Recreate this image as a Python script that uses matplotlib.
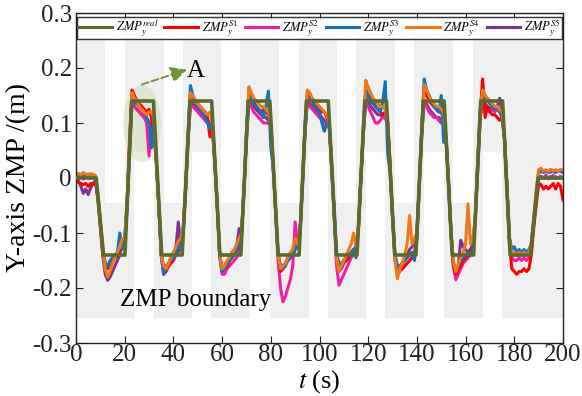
import numpy as np
import matplotlib
matplotlib.use('Agg')
import matplotlib.pyplot as plt
from matplotlib.patches import Rectangle, Ellipse
from matplotlib.lines import Line2D

plt.rcParams['font.family'] = ['Liberation Serif', 'DejaVu Serif']
plt.rcParams['mathtext.fontset'] = 'stix'

# reference ZMP (trapezoid key points)
real_t = [0, 8.3, 11.3, 20.1, 22.9, 31.8, 35.2, 43.6, 46.8, 55.7, 59.1, 67.7, 70.7,
          79.6, 83.0, 91.6, 94.6, 103.6, 107.0, 115.4, 118.6, 127.5, 130.9, 139.6,
          142.6, 151.2, 154.5, 163.3, 166.2, 175.2, 178.3, 186.6, 189.8, 200]
real_y = [0, 0, -0.14, -0.14, 0.14, 0.14, -0.14, -0.14, 0.14, 0.14, -0.14, -0.14, 0.14,
          0.14, -0.14, -0.14, 0.14, 0.14, -0.14, -0.14, 0.14, 0.14, -0.14, -0.14,
          0.14, 0.14, -0.14, -0.14, 0.14, 0.14, -0.14, -0.14, 0, 0]

# measured ZMP, one sample per second (0..200 s)
t = np.arange(0, 201)

zmp_s1 = [-0.005, -0.008, -0.01, -0.012, -0.01, -0.015, -0.01, -0.012, -0.005,
          -0.04, -0.09, -0.14, -0.16, -0.165, -0.155, -0.15, -0.145, -0.14, -0.13, -0.12, -0.115,
          -0.04, 0.07, 0.16, 0.15, 0.14, 0.135, 0.13, 0.125, 0.12, 0.125, 0.11, 0.08,
          0.03, -0.05, -0.14, -0.175, -0.17, -0.16, -0.155, -0.15, -0.14, -0.13, -0.125, -0.1,
          -0.02, 0.07, 0.15, 0.145, 0.14, 0.135, 0.13, 0.125, 0.12, 0.11, 0.075, 0.09,
          0.03, -0.05, -0.14, -0.17, -0.165, -0.16, -0.15, -0.145, -0.14, -0.13, -0.125, -0.1,
          -0.02, 0.08, 0.16, 0.15, 0.14, 0.13, 0.125, 0.12, 0.125, 0.12, 0.115, 0.1,
          0.02, -0.06, -0.14, -0.17, -0.165, -0.155, -0.15, -0.145, -0.14, -0.13, -0.125, -0.1,
          -0.01, 0.09, 0.155, 0.15, 0.14, 0.135, 0.13, 0.125, 0.12, 0.12, 0.11, 0.1,
          0.02, -0.06, -0.14, -0.155, -0.16, -0.15, -0.15, -0.145, -0.14, -0.135, -0.13, -0.09,
          0.0, 0.09, 0.16, 0.15, 0.145, 0.14, 0.13, 0.125, 0.12, 0.115, 0.12, 0.1,
          0.02, -0.07, -0.14, -0.16, -0.165, -0.165, -0.16, -0.155, -0.15, -0.145, -0.14, -0.11,
          -0.01, 0.09, 0.165, 0.15, 0.14, 0.135, 0.13, 0.125, 0.12, 0.12, 0.11, 0.07,
          -0.01, -0.1, -0.16, -0.175, -0.165, -0.16, -0.15, -0.145, -0.14, -0.13, -0.13, -0.07,
          0.03, 0.12, 0.18, 0.11, 0.13, 0.12, 0.115, 0.115, 0.11, 0.105, 0.11, 0.07,
          -0.02, -0.12, -0.165, -0.17, -0.175, -0.17, -0.17, -0.165, -0.17, -0.165, -0.14, -0.09,
          -0.05, -0.01, -0.012, -0.02, -0.015, -0.02, -0.015, -0.01, -0.02, -0.01, -0.015, -0.04]

zmp_s2 = [0.003, 0.0, 0.002, -0.002, 0.0, 0.002, 0.0, 0.002, 0.0,
          -0.035, -0.08, -0.13, -0.155, -0.16, -0.155, -0.15, -0.145, -0.14, -0.135, -0.125, -0.12,
          -0.05, 0.05, 0.14, 0.13, 0.125, 0.12, 0.115, 0.11, 0.1, 0.04, 0.11, 0.1,
          0.03, -0.05, -0.13, -0.165, -0.165, -0.16, -0.15, -0.145, -0.14, -0.135, -0.13, -0.1,
          -0.02, 0.07, 0.13, 0.13, 0.125, 0.12, 0.115, 0.11, 0.105, 0.1, 0.1, 0.1,
          0.03, -0.05, -0.14, -0.175, -0.175, -0.165, -0.16, -0.155, -0.15, -0.145, -0.13, -0.1,
          -0.02, 0.07, 0.14, 0.13, 0.12, 0.115, 0.11, 0.105, 0.1, 0.1, 0.1, 0.095,
          0.02, -0.06, -0.15, -0.2, -0.225, -0.215, -0.2, -0.185, -0.16, -0.08, -0.12, -0.1,
          -0.01, 0.08, 0.14, 0.13, 0.125, 0.12, 0.115, 0.11, 0.105, 0.1, 0.1, 0.09,
          0.02, -0.07, -0.16, -0.195, -0.185, -0.175, -0.165, -0.155, -0.145, -0.14, -0.13, -0.09,
          0.0, 0.08, 0.14, 0.13, 0.12, 0.11, 0.1, 0.1, 0.105, 0.11, 0.11, 0.095,
          0.02, -0.07, -0.15, -0.175, -0.17, -0.165, -0.16, -0.155, -0.15, -0.145, -0.14, -0.1,
          -0.01, 0.08, 0.14, 0.13, 0.12, 0.115, 0.11, 0.11, 0.105, 0.1, 0.1, 0.07,
          -0.01, -0.1, -0.16, -0.185, -0.175, -0.165, -0.155, -0.15, -0.145, -0.14, -0.135, -0.07,
          0.02, 0.11, 0.14, 0.13, 0.125, 0.12, 0.125, 0.12, 0.125, 0.12, 0.12, 0.07,
          -0.02, -0.11, -0.145, -0.15, -0.15, -0.145, -0.15, -0.145, -0.15, -0.145, -0.125, -0.08,
          -0.035, 0.0, 0.0, 0.0, 0.005, 0.0, 0.0, 0.005, 0.0, 0.0, 0.003, 0.0]

zmp_s3 = [0.008, 0.005, 0.006, 0.004, 0.005, 0.007, 0.005, 0.006, 0.004,
          -0.03, -0.08, -0.13, -0.155, -0.16, -0.15, -0.145, -0.14, -0.135, -0.1, -0.13, -0.11,
          -0.05, 0.06, 0.15, 0.14, 0.135, 0.13, 0.125, 0.12, 0.11, 0.1, 0.055, 0.1,
          0.03, -0.05, -0.14, -0.175, -0.165, -0.155, -0.15, -0.145, -0.14, -0.12, -0.13, -0.1,
          -0.02, 0.08, 0.168, 0.15, 0.14, 0.13, 0.125, 0.12, 0.11, 0.1, 0.09, 0.1,
          0.03, -0.05, -0.14, -0.17, -0.165, -0.155, -0.15, -0.145, -0.14, -0.13, -0.12, -0.1,
          -0.02, 0.08, 0.155, 0.145, 0.135, 0.13, 0.125, 0.12, 0.11, 0.13, 0.158, 0.055,
          0.02, -0.06, -0.14, -0.16, -0.165, -0.16, -0.15, -0.145, -0.14, -0.13, -0.12, -0.1,
          -0.01, 0.09, 0.15, 0.145, 0.14, 0.13, 0.125, 0.12, 0.1, 0.085, 0.1, 0.1,
          0.02, -0.06, -0.14, -0.16, -0.155, -0.15, -0.145, -0.14, -0.135, -0.13, -0.145, -0.09,
          0.0, 0.09, 0.16, 0.15, 0.14, 0.135, 0.13, 0.125, 0.12, 0.14, 0.175, 0.045,
          0.01, -0.07, -0.14, -0.165, -0.16, -0.155, -0.15, -0.145, -0.14, -0.135, -0.15, -0.11,
          -0.01, 0.09, 0.18, 0.16, 0.15, 0.14, 0.13, 0.125, 0.12, 0.15, 0.065, 0.07,
          -0.01, -0.1, -0.155, -0.165, -0.16, -0.15, -0.145, -0.14, -0.135, -0.14, -0.13, -0.07,
          0.03, 0.12, 0.16, 0.15, 0.14, 0.135, 0.13, 0.125, 0.13, 0.12, 0.11, 0.07,
          -0.02, -0.11, -0.13, -0.125, -0.135, -0.13, -0.135, -0.13, -0.135, -0.13, -0.12, -0.075,
          -0.03, 0.01, 0.012, 0.01, 0.012, 0.01, 0.011, 0.012, 0.01, 0.013, 0.012, 0.01]

zmp_s4 = [0.005, 0.008, 0.006, 0.01, 0.007, 0.005, 0.008, 0.006, 0.005,
          -0.03, -0.08, -0.13, -0.165, -0.18, -0.17, -0.155, -0.145, -0.135, -0.125, -0.11, -0.11,
          -0.04, 0.06, 0.155, 0.145, 0.14, 0.13, 0.125, 0.12, 0.115, 0.12, 0.12, 0.11,
          0.03, -0.05, -0.14, -0.16, -0.165, -0.155, -0.145, -0.135, -0.125, -0.115, -0.11, -0.09,
          -0.02, 0.07, 0.155, 0.15, 0.14, 0.135, 0.13, 0.125, 0.12, 0.115, 0.12, 0.1,
          0.03, -0.05, -0.14, -0.165, -0.16, -0.15, -0.145, -0.135, -0.13, -0.12, -0.11, -0.1,
          -0.02, 0.08, 0.166, 0.155, 0.145, 0.14, 0.135, 0.13, 0.13, 0.125, 0.12, 0.1,
          0.02, -0.06, -0.14, -0.165, -0.16, -0.155, -0.145, -0.135, -0.13, -0.11, -0.12, -0.1,
          -0.01, 0.09, 0.16, 0.155, 0.145, 0.14, 0.135, 0.13, 0.125, 0.12, 0.115, 0.1,
          0.02, -0.06, -0.145, -0.17, -0.16, -0.15, -0.14, -0.13, -0.12, -0.1, -0.125, -0.09,
          0.0, 0.09, 0.178, 0.165, 0.155, 0.145, 0.14, 0.135, 0.13, 0.13, 0.125, 0.1,
          0.02, -0.07, -0.15, -0.183, -0.165, -0.155, -0.14, -0.12, -0.068, -0.12, -0.11, -0.1,
          -0.01, 0.09, 0.17, 0.16, 0.15, 0.14, 0.135, 0.13, 0.13, 0.125, 0.12, 0.07,
          -0.01, -0.1, -0.15, -0.17, -0.155, -0.145, -0.135, -0.12, -0.047, -0.12, -0.11, -0.07,
          0.03, 0.12, 0.16, 0.15, 0.145, 0.14, 0.135, 0.13, 0.13, 0.125, 0.12, 0.07,
          -0.02, -0.11, -0.14, -0.135, -0.14, -0.135, -0.14, -0.135, -0.14, -0.135, -0.12, -0.07,
          -0.02, 0.015, 0.018, 0.012, 0.015, 0.012, 0.016, 0.013, 0.015, 0.012, 0.016, 0.014]

zmp_s5 = [0.0, -0.005, -0.015, -0.028, -0.02, -0.03, -0.018, -0.01, -0.005,
          -0.035, -0.085, -0.14, -0.175, -0.186, -0.18, -0.17, -0.16, -0.15, -0.14, -0.12, -0.12,
          -0.05, 0.05, 0.14, 0.13, 0.125, 0.12, 0.115, 0.11, 0.105, 0.1, 0.1, 0.1,
          0.03, -0.05, -0.14, -0.165, -0.16, -0.155, -0.145, -0.14, -0.13, -0.08, -0.12, -0.1,
          -0.02, 0.07, 0.14, 0.135, 0.13, 0.125, 0.12, 0.115, 0.11, 0.105, 0.1, 0.1,
          0.03, -0.05, -0.14, -0.165, -0.16, -0.155, -0.145, -0.14, -0.13, -0.125, -0.092, -0.1,
          -0.02, 0.07, 0.145, 0.14, 0.13, 0.125, 0.12, 0.115, 0.11, 0.11, 0.105, 0.1,
          0.02, -0.06, -0.14, -0.16, -0.16, -0.155, -0.145, -0.14, -0.13, -0.125, -0.12, -0.1,
          -0.01, 0.08, 0.14, 0.135, 0.13, 0.125, 0.12, 0.115, 0.11, 0.105, 0.1, 0.1,
          0.02, -0.06, -0.15, -0.17, -0.165, -0.155, -0.15, -0.14, -0.135, -0.13, -0.125, -0.09,
          0.0, 0.08, 0.145, 0.14, 0.13, 0.125, 0.12, 0.115, 0.115, 0.11, 0.11, 0.1,
          0.02, -0.07, -0.145, -0.165, -0.16, -0.155, -0.145, -0.14, -0.13, -0.125, -0.12, -0.1,
          -0.01, 0.08, 0.14, 0.135, 0.125, 0.12, 0.115, 0.11, 0.11, 0.105, 0.1, 0.07,
          -0.01, -0.1, -0.155, -0.17, -0.16, -0.113, -0.125, -0.13, -0.135, -0.13, -0.12, -0.07,
          0.02, 0.11, 0.14, 0.135, 0.13, 0.125, 0.13, 0.125, 0.13, 0.145, 0.12, 0.07,
          -0.02, -0.11, -0.14, -0.14, -0.14, -0.14, -0.14, -0.14, -0.14, -0.14, -0.125, -0.08,
          -0.035, 0.0, 0.003, 0.0, 0.002, 0.0, 0.003, 0.0, 0.002, 0.0, 0.003, 0.0]

# ZMP boundary (support polygon) gaps
upper_gap_start = [12, 36, 59.5, 83.5, 107, 131, 155]
upper_gap_end = [20, 44, 67.5, 91.5, 115, 139, 163]
lower_gap_start = [24, 47.5, 71.5, 95.5, 119, 143, 167]
lower_gap_end = [32, 55.5, 79.5, 103.5, 127, 151, 175]
bound_low, bound_high = -0.255, 0.262
inner_low, inner_high = -0.045, 0.047

c_real = '#5a6b2e'
c_s1 = '#ff0000'
c_s2 = '#f21ea6'
c_s3 = '#1172bd'
c_s4 = '#f07819'
c_s5 = '#7e3294'
gray = '#f0f0f0'

fig = plt.figure(figsize=(5.82, 3.96), dpi=100)
ax = fig.add_axes([76 / 582, 53 / 396, 487 / 582, 330 / 396])

ax.add_patch(Rectangle((0, bound_low), 200, bound_high - bound_low, color=gray, lw=0, zorder=0))
for a, b in zip(upper_gap_start, upper_gap_end):
    ax.add_patch(Rectangle((a, inner_low), b - a, 0.3 - inner_low, color='white', lw=0, zorder=0.5))
for a, b in zip(lower_gap_start, lower_gap_end):
    ax.add_patch(Rectangle((a, bound_low), b - a, inner_high - bound_low, color='white', lw=0, zorder=0.5))

ax.add_patch(Ellipse((27.2, 0.099), 15.7, 0.141, color='#c9d9ab', alpha=0.45, lw=0, zorder=1))

lw = 2.2
ax.plot(t, zmp_s5, color=c_s5, lw=lw, zorder=2)
ax.plot(t, zmp_s2, color=c_s2, lw=lw, zorder=2)
ax.plot(t, zmp_s1, color=c_s1, lw=lw, zorder=2)
ax.plot(t, zmp_s3, color=c_s3, lw=lw, zorder=2)
ax.plot(t, zmp_s4, color=c_s4, lw=lw, zorder=2)
ax.plot(real_t, real_y, color=c_real, lw=2.6, zorder=3)

ax.annotate('', xy=(45.6, 0.197), xytext=(27, 0.17),
            arrowprops=dict(arrowstyle='-|>', linestyle='--', color='#76923c', lw=1.4,
                            mutation_scale=24, shrinkA=0, shrinkB=0))
ax.text(45.6, 0.195, 'A', fontsize=18, ha='left', va='center')
ax.text(18, -0.222, 'ZMP boundary', fontsize=18, ha='left', va='center')

ax.set_xlim(0, 200)
ax.set_ylim(-0.3, 0.3)
ax.set_xticks(range(0, 201, 20))
ax.set_yticks([-0.3, -0.2, -0.1, 0, 0.1, 0.2, 0.3])
ax.set_yticklabels(['-0.3', '-0.2', '-0.1', '0', '0.1', '0.2', '0.3'])
ax.tick_params(direction='in', top=True, right=True, length=5, labelsize=18,
               colors='#222222')
ax.tick_params(axis='x', pad=1)
ax.tick_params(axis='y', pad=3)
for s in ax.spines.values():
    s.set_color('#222222')
    s.set_linewidth(1.0)

ax.set_xlabel('$t$ (s)', fontsize=19, labelpad=1)
ax.set_ylabel('Y-axis ZMP /(m)', fontsize=20, labelpad=1)

handles = [Line2D([], [], color=c, lw=2.2) for c in [c_real, c_s1, c_s2, c_s3, c_s4, c_s5]]
labels = ['$ZMP_y^{real}$', '$ZMP_y^{S1}$', '$ZMP_y^{S2}$', '$ZMP_y^{S3}$',
          '$ZMP_y^{S4}$', '$ZMP_y^{S5}$']
leg = ax.legend(handles, labels, loc='upper center', bbox_to_anchor=(0.5, 1.0), ncol=6,
                fontsize=9, frameon=True, fancybox=False, edgecolor='black',
                handlelength=2.7, handletextpad=0.3, columnspacing=0.5,
                borderpad=0.05, borderaxespad=0.3)
leg.get_frame().set_linewidth(1.0)
leg.set_zorder(5)

fig.savefig('out.png', dpi=100)
